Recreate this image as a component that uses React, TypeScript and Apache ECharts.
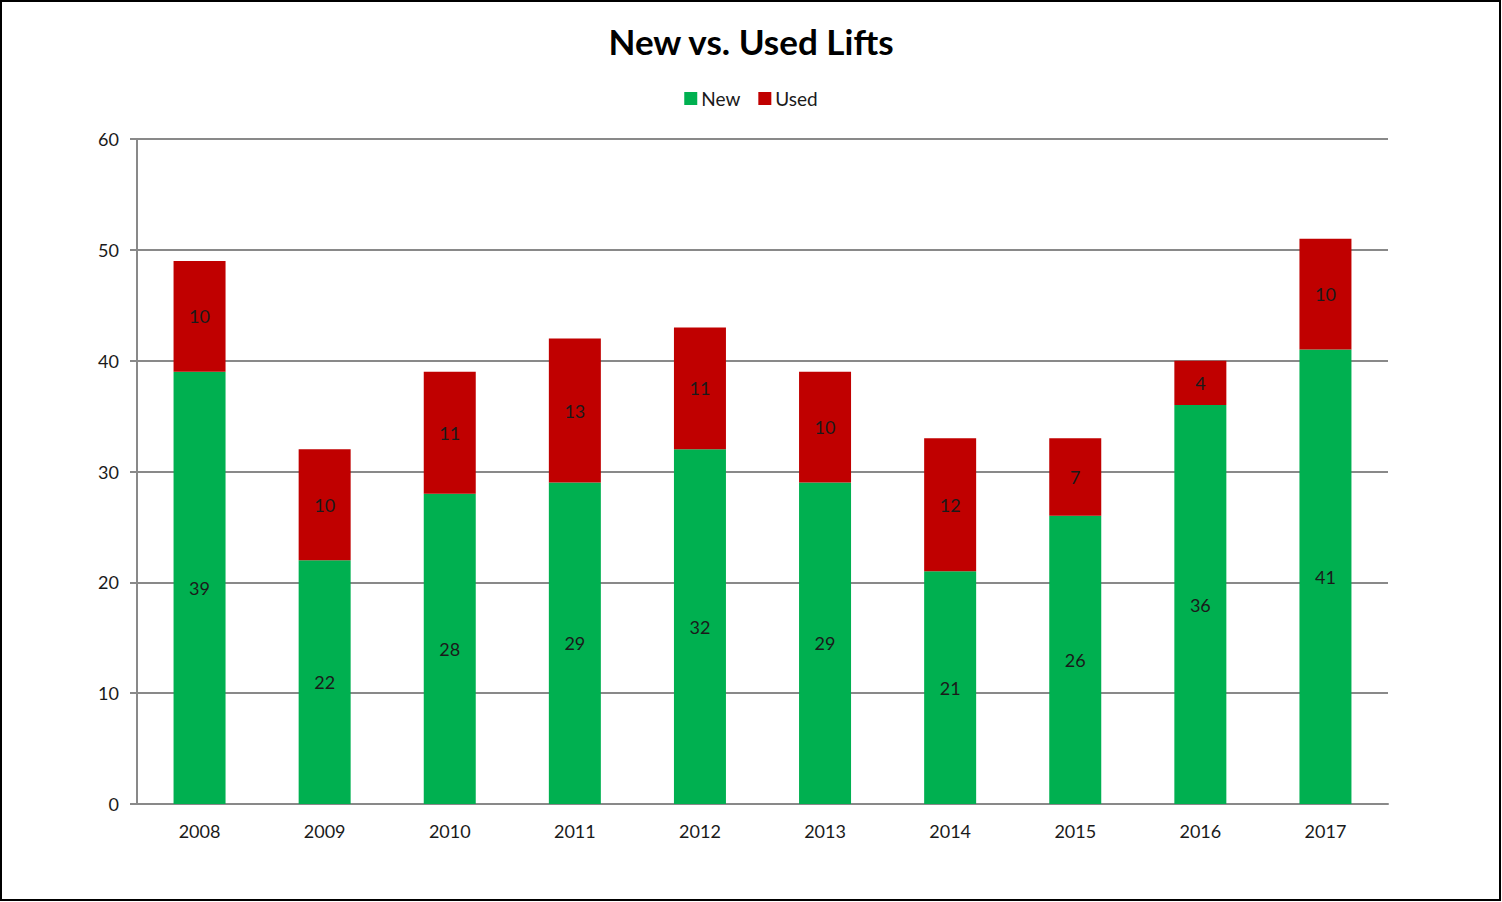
import React, { useEffect, useRef } from "react";
import * as echarts from "echarts";

const categories = ["2008", "2009", "2010", "2011", "2012", "2013", "2014", "2015", "2016", "2017"];
const newValues = [39, 22, 28, 29, 32, 29, 21, 26, 36, 41];
const usedValues = [10, 10, 11, 13, 11, 10, 12, 7, 4, 10];
const yTicks = { min: 0, max: 60, interval: 10 };

const FONT = "Lato, 'Open Sans', sans-serif";

export default function App() {
  const ref = useRef<HTMLDivElement>(null);
  useEffect(() => {
    if (!ref.current) return;
    const chart = echarts.init(ref.current, undefined, { renderer: "svg" });
    const labelStyle = {
      show: true,
      position: "inside" as const,
      color: "#1a1a1a",
      fontSize: 18,
      fontFamily: FONT,
    };
    chart.setOption({
      animation: false,
      backgroundColor: "#ffffff",
      textStyle: { fontFamily: FONT },
      title: {
        text: "New vs. Used Lifts",
        left: "center",
        top: 18,
        textStyle: { fontSize: 35, fontWeight: "bold", color: "#000", fontFamily: FONT },
      },
      legend: {
        top: 84,
        left: "center",
        itemWidth: 13,
        itemHeight: 13,
        itemGap: 18,
        icon: "rect",
        textStyle: { fontSize: 19, color: "#1a1a1a", fontFamily: FONT, padding: [0, 0, 0, -1] },
        data: ["New", "Used"],
      },
      grid: { left: 137, right: 114, top: 139, bottom: 98, containLabel: false },
      xAxis: {
        type: "category",
        data: categories,
        axisLine: { lineStyle: { color: "#898989", width: 2 } },
        axisTick: { show: false },
        axisLabel: { fontSize: 18, color: "#1a1a1a", margin: 18, fontFamily: FONT },
      },
      yAxis: {
        type: "value",
        min: yTicks.min,
        max: yTicks.max,
        interval: yTicks.interval,
        axisLine: { show: true, lineStyle: { color: "#898989", width: 2 } },
        axisTick: { show: true, length: 7, lineStyle: { color: "#898989", width: 2 } },
        axisLabel: { fontSize: 18, color: "#1a1a1a", margin: 18, fontFamily: FONT },
        splitLine: { lineStyle: { color: "#898989", width: 2 } },
      },
      series: [
        {
          name: "New",
          type: "bar",
          stack: "total",
          barWidth: 52,
          itemStyle: { color: "#00B050" },
          label: labelStyle,
          data: newValues,
        },
        {
          name: "Used",
          type: "bar",
          stack: "total",
          barWidth: 52,
          itemStyle: { color: "#C00000" },
          label: labelStyle,
          data: usedValues,
        },
      ],
      graphic: [
        {
          type: "rect",
          shape: { x: 1, y: 1, width: 1499, height: 899 },
          style: { fill: "none", stroke: "#000", lineWidth: 2 },
          silent: true,
        },
      ],
    });
    return () => chart.dispose();
  }, []);
  return (
    <div
      ref={ref}
      style={{ position: "absolute", left: 0, top: 0, width: 1502, height: 902 }}
    />
  );
}
